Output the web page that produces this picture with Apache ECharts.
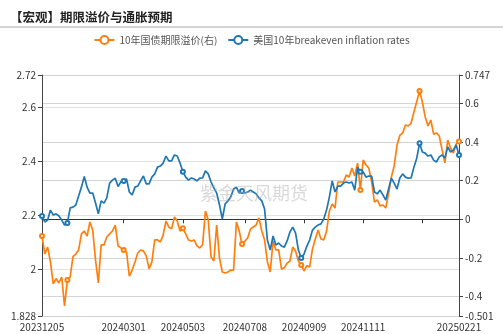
<!DOCTYPE html>
<html><head><meta charset="utf-8">
<script src="https://cdn.jsdelivr.net/npm/echarts@6/dist/echarts.min.js"></script>
<style>html,body{margin:0;padding:0;background:#fff}#c{width:503px;height:334px}</style>
</head><body><div id="c"></div>
<script>
const dates = [
'20231205','20231208','20231211','20231214','20231217','20231220','20231223','20231226','20231229',
'20240101','20240104','20240107','20240110','20240113','20240116','20240119','20240122','20240125','20240128','20240131',
'20240203','20240206','20240209','20240212','20240215','20240218','20240221','20240224','20240227',
'20240301','20240304','20240307','20240310','20240313','20240316','20240319','20240322','20240325','20240328','20240331',
'20240403','20240406','20240409','20240412','20240415','20240418','20240421','20240424','20240427','20240430',
'20240503','20240506','20240509','20240512','20240515','20240518','20240521','20240524','20240527','20240530',
'20240602','20240605','20240608','20240611','20240614','20240617','20240620','20240623','20240626','20240629',
'20240702','20240705','20240708','20240711','20240714','20240717','20240720','20240723','20240726','20240729',
'20240801','20240804','20240807','20240810','20240813','20240816','20240819','20240822','20240825','20240828','20240831',
'20240903','20240906','20240909','20240912','20240915','20240918','20240921','20240924','20240927','20240930',
'20241003','20241006','20241009','20241012','20241015','20241018','20241021','20241024','20241027','20241030',
'20241102','20241105','20241108','20241111','20241114','20241117','20241120','20241123','20241126','20241129',
'20241202','20241205','20241208','20241211','20241214','20241217','20241220','20241223','20241226','20241229',
'20250101','20250104','20250107','20250110','20250113','20250116','20250119','20250122','20250125','20250128','20250131',
'20250203','20250206','20250209','20250212','20250215','20250218','20250221'];

// 美国10年breakeven inflation rates (left axis)
const breakeven = [
2.198,2.176,2.183,2.220,2.202,2.206,2.198,2.183,2.165,
2.172,2.228,2.231,2.239,2.272,2.305,2.344,2.305,2.283,2.283,2.246,
2.206,2.254,2.246,2.265,2.320,2.331,2.338,2.307,2.325,
2.328,2.335,2.287,2.276,2.305,2.309,2.328,2.346,2.317,2.317,2.342,
2.354,2.379,2.383,2.394,2.420,2.402,2.402,2.424,2.420,2.394,
2.362,2.342,2.331,2.339,2.335,2.328,2.338,2.339,2.365,2.354,
2.324,2.302,2.283,2.239,2.187,2.243,2.254,2.269,2.298,2.305,
2.283,2.291,2.283,2.287,2.294,2.287,2.280,2.265,2.254,2.224,
2.109,2.072,2.124,2.091,2.098,2.087,2.083,2.106,2.139,2.157,2.135,
2.072,2.043,2.057,2.087,2.109,2.146,2.157,2.165,2.169,2.187,
2.220,2.269,2.328,2.287,2.309,2.309,2.320,2.324,2.320,2.324,
2.294,2.379,2.362,2.361,2.342,2.346,2.346,2.287,2.280,2.294,
2.276,2.257,2.298,2.338,2.320,2.298,2.339,2.354,2.342,2.338,
2.339,2.379,2.412,2.467,2.435,2.431,2.420,2.424,2.405,2.398,2.417,
2.424,2.413,2.454,2.435,2.442,2.461,2.424];

// 10年国债期限溢价 (right axis)
const termPremium = [
-0.087,-0.180,-0.144,-0.221,-0.335,-0.307,-0.330,-0.299,-0.449,
-0.315,-0.299,-0.194,-0.180,-0.159,-0.076,-0.061,-0.087,-0.014,-0.056,-0.211,
-0.330,-0.133,-0.133,-0.092,-0.076,-0.061,-0.030,-0.138,-0.149,
-0.159,-0.170,-0.294,-0.263,-0.221,-0.175,-0.159,-0.164,-0.190,-0.257,-0.221,
-0.107,-0.107,-0.118,-0.082,-0.009,-0.040,-0.050,0.012,-0.009,-0.061,
-0.047,-0.076,-0.107,-0.113,-0.107,-0.138,-0.149,-0.133,0.043,-0.004,
-0.195,-0.216,-0.030,-0.201,-0.273,-0.278,-0.273,-0.263,-0.263,-0.014,
-0.061,-0.128,-0.113,-0.097,-0.050,-0.040,-0.030,0.007,-0.061,-0.107,
-0.221,-0.273,-0.113,-0.159,-0.159,-0.257,-0.252,-0.227,-0.216,-0.144,-0.164,
-0.216,-0.237,-0.268,-0.240,-0.247,-0.154,-0.102,-0.056,-0.102,-0.107,
-0.061,0.043,0.079,0.058,0.193,0.193,0.193,0.229,0.219,0.265,
0.224,0.291,0.151,0.307,0.281,0.265,0.193,0.089,0.100,0.069,
0.074,0.058,0.131,0.219,0.276,0.384,0.434,0.447,0.488,0.483,
0.498,0.555,0.609,0.664,0.607,0.530,0.483,0.514,0.441,0.447,0.431,
0.359,0.292,0.410,0.369,0.343,0.390,0.402];

const xLabelDates = ['20231205','20240301','20240503','20240708','20240909','20241111','20250221'];
const xTickDates = ['20240301','20240503','20240708','20240909','20241111','20250113'];
const markerDates = ['20231205','20240101','20240301','20240503','20240705','20240906','20241108','20250110','20250221'];

const leftMin = 1.828, leftMax = 2.72;
const rightMin = -0.501, rightMax = 0.747;

function ts(s){ return new Date(+s.slice(0,4), +s.slice(4,6)-1, +s.slice(6,8)).getTime(); }
function fmt(v){ const d = new Date(v); return '' + d.getFullYear() + String(d.getMonth()+1).padStart(2,'0') + String(d.getDate()).padStart(2,'0'); }

const markIdx = markerDates.map(d => dates.indexOf(d));
const tMin = ts(dates[0]), tMax = ts(dates[dates.length-1]);
const FONT = '"Noto Sans CJK SC", "Noto Sans", sans-serif';

const chart = echarts.init(document.getElementById('c'), null, {renderer:'canvas'});
chart.setOption({
  animation: false,
  backgroundColor: '#fff',
  textStyle: {fontFamily: FONT},
  title: {
    text: '【宏观】期限溢价与通胀预期', left: 5, top: 6,
    textStyle: {fontSize: 12.5, fontWeight: 'bold', color: '#222', fontFamily: FONT}
  },
  graphic: [
    {type:'line', shape:{x1:0,y1:27,x2:503,y2:27}, style:{stroke:'#aaa', lineWidth:1}, silent:true},
    {type:'text', left: 200, top: 184, z: 100, silent:true,
     style:{text:'紫金天风期货', font:'18px "Noto Sans CJK SC"', fill:'rgba(170,170,170,0.45)'}}
  ],
  legend: {
    top: 30, left: 'center', itemWidth: 20, itemHeight: 10, itemGap: 10,
    textStyle: {fontSize: 10, color: '#555', fontFamily: FONT},
    data: ['10年国债期限溢价(右)', '美国10年breakeven inflation rates']
  },
  grid: {left: 42, right: 44, top: 75, bottom: 18},
  xAxis: [
    {type:'value', min:tMin, max:tMax, scale:true,
     axisLine:{show:false, onZero:false}, axisTick:{show:false}, splitLine:{show:false},
     axisLabel:{show:true, customValues: xLabelDates.map(ts), formatter: fmt, fontSize:10, color:'#333', margin:6, fontFamily: FONT}},
    {type:'value', min:tMin, max:tMax, scale:true, position:'bottom',
     axisLine:{show:true, onZero:true, onZeroAxisIndex:1, lineStyle:{color:'#333', width:1}},
     axisTick:{show:true, length:4, customValues: xTickDates.map(ts), lineStyle:{color:'#333'}},
     axisLabel:{show:false}, splitLine:{show:false}}
  ],
  yAxis: [
    {type:'value', min:leftMin, max:leftMax, splitNumber:5, position:'left',
     axisLine:{show:true, onZero:false, lineStyle:{color:'#444'}}, axisTick:{show:true, length:4, lineStyle:{color:'#444'}},
     axisLabel:{fontSize:10, color:'#333', margin:6, fontFamily: FONT},
     splitLine:{show:true, lineStyle:{color:'#e2e2e2', width:1}}},
    {type:'value', min:rightMin, max:rightMax, splitNumber:6, position:'right',
     axisLine:{show:true, onZero:false, lineStyle:{color:'#444'}}, axisTick:{show:true, length:4, lineStyle:{color:'#444'}},
     axisLabel:{fontSize:10, color:'#333', margin:6, fontFamily: FONT},
     splitLine:{show:true, lineStyle:{color:'#d4d4d4', width:1}}}
  ],
  series: [
    {name:'10年国债期限溢价(右)', type:'line', xAxisIndex:0, yAxisIndex:1,
     data: dates.map((d,i)=>[ts(d), termPremium[i]]),
     color:'#ff7f0e', lineStyle:{width:1.7, color:'#ff7f0e'},
     symbol:'emptyCircle', showSymbol:true, showAllSymbol:true,
     symbolSize:(v,p)=> markIdx.indexOf(p.dataIndex) >= 0 ? 4 : 0,
     itemStyle:{color:'#ff7f0e', borderWidth:1}, z:2},
    {name:'美国10年breakeven inflation rates', type:'line', xAxisIndex:0, yAxisIndex:0,
     data: dates.map((d,i)=>[ts(d), breakeven[i]]),
     color:'#1f77b4', lineStyle:{width:1.7, color:'#1f77b4'},
     symbol:'emptyCircle', showSymbol:true, showAllSymbol:true,
     symbolSize:(v,p)=> markIdx.indexOf(p.dataIndex) >= 0 ? 4 : 0,
     itemStyle:{color:'#1f77b4', borderWidth:1}, z:3}
  ]
});
</script></body></html>
